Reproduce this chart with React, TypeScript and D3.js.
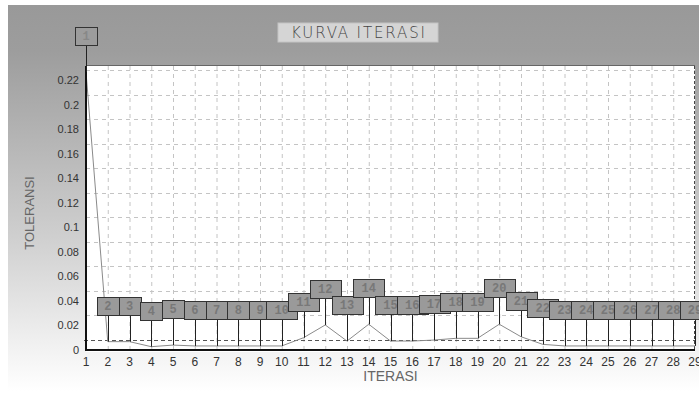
import React from 'react';
import * as d3 from 'd3';

const iterations = d3.range(1, 30);
const tolerance = [
  0.2265, 0.0068, 0.0068, 0.0027, 0.004, 0.0033, 0.0033, 0.0033, 0.0033, 0.0033,
  0.010, 0.0204, 0.0073, 0.021, 0.0073, 0.0073, 0.0081, 0.0095, 0.0095, 0.021,
  0.0108, 0.0046, 0.0033, 0.0033, 0.0033, 0.0033, 0.0033, 0.0033, 0.0033,
];
const yTicks = [0, 0.02, 0.04, 0.06, 0.08, 0.1, 0.12, 0.14, 0.16, 0.18, 0.2, 0.22];
const yTickLabels = ['0', '0.02', '0.04', '0.06', '0.08', '0.1', '0.12', '0.14', '0.16', '0.18', '0.2', '0.22'];

const W = 699;
const H = 419;
const plot = { left: 86, right: 695, top: 66, bottom: 350 };

export default function App() {
  const x = d3.scaleLinear().domain([1, 29]).range([plot.left, plot.right]);
  const y = d3.scaleLinear().domain([0, 0.2314]).range([plot.bottom, plot.top]);

  const line = d3.line<number>()
    .x((_, i) => x(iterations[i]))
    .y(d => y(d));

  // grid in this chart sits ~10px above the labelled ticks
  const gridShift = -10;
  const arrow = 27;
  const boxH = 18;

  return (
    <svg width={W} height={H} style={{ position: 'absolute', left: 0, top: 0 }}
      fontFamily="'Liberation Sans', Arial, sans-serif">
      <defs>
        <linearGradient id="panel" x1="0" y1="0" x2="0" y2="1">
          <stop offset="0" stopColor="#999999" />
          <stop offset="0.12" stopColor="#9d9d9d" />
          <stop offset="0.6" stopColor="#cfcfcf" />
          <stop offset="1" stopColor="#ffffff" />
        </linearGradient>
        <clipPath id="clipPlot">
          <rect x={plot.left} y={plot.top} width={plot.right - plot.left} height={plot.bottom - plot.top + 2} />
        </clipPath>
      </defs>
      <rect width={W} height={H} fill="#ffffff" />
      <rect x={8} y={5} width={W - 8} height={386} fill="url(#panel)" />

      {/* title */}
      <rect x={278} y={23} width={160} height={19} fill="#d5d5d5" stroke="#c4c4c4" />
      <text x={358} y={38} textAnchor="middle" fontSize={15} fill="#444"
        textLength={134} lengthAdjust="spacing" fontFamily="'DejaVu Sans', sans-serif" fontWeight={200}>
        KURVA ITERASI
      </text>

      {/* plot background */}
      <rect x={plot.left} y={plot.top} width={plot.right - plot.left} height={plot.bottom - plot.top + 2} fill="#ffffff" />

      {/* grid */}
      <g stroke="#c4c4c4" strokeDasharray="4,4" strokeWidth={1}>
        {iterations.slice(1, -1).map(v => (
          <line key={'gx' + v} x1={x(v) + 0.5} x2={x(v) + 0.5} y1={plot.top} y2={plot.bottom} />
        ))}
        {yTicks.slice(1).map(v => (
          <line key={'gy' + v} x1={plot.left} x2={plot.right} y1={Math.round(y(v) + gridShift) + 0.5} y2={Math.round(y(v) + gridShift) + 0.5} />
        ))}
      </g>
      <line x1={plot.left - 2} x2={plot.right} y1={Math.round(y(0) + gridShift) + 0.5} y2={Math.round(y(0) + gridShift) + 0.5}
        stroke="#555" strokeDasharray="4,3" />

      {/* frame */}
      <line x1={plot.left} x2={plot.right} y1={plot.top - 0.5} y2={plot.top - 0.5} stroke="#666" />
      <line x1={plot.right - 0.5} x2={plot.right - 0.5} y1={plot.top} y2={plot.bottom} stroke="#444" strokeDasharray="3,2" />

      {/* series */}
      <path d={line(tolerance) || ''} fill="none" stroke="#8a8a8a" strokeWidth={1} clipPath="url(#clipPlot)" />

      {/* axes */}
      <line x1={plot.left} x2={plot.left} y1={plot.top} y2={plot.bottom + 1} stroke="#111" strokeWidth={2} />
      <line x1={plot.left - 1} x2={plot.right} y1={plot.bottom} y2={plot.bottom} stroke="#111" strokeWidth={2} />

      {yTicks.map((v, i) => (
        <text key={'yl' + v} x={79} y={y(v) + 4} textAnchor="end" fontSize={11} fill="#333">{yTickLabels[i]}</text>
      ))}
      {iterations.map(v => (
        <text key={'xl' + v} x={x(v)} y={366} textAnchor="middle" fontSize={12} fill="#333">{v}</text>
      ))}
      <text x={(plot.left + plot.right) / 2} y={381} textAnchor="middle" fontSize={14} fill="#666">ITERASI</text>
      <text transform={`translate(34,213) rotate(-90)`} textAnchor="middle" fontSize={13} fill="#666">TOLERANSI</text>

      {/* point marks */}
      {tolerance.map((v, i) => {
        const it = iterations[i];
        const cx = x(it);
        const py = y(v);
        const bottom = py - arrow;
        const w = String(it).length > 1 ? 31 : 22;
        const first = i === 0;
        return (
          <g key={'m' + it}>
            <line x1={Math.round(cx) + 0.5} x2={Math.round(cx) + 0.5} y1={bottom} y2={py} stroke="#222" />
            <rect x={Math.round(cx - w / 2) + 0.5} y={Math.round(bottom - boxH) + 0.5} width={w} height={boxH}
              fill={first ? '#9c9c9c' : '#9a9a9a'} stroke="#333" />
            <text x={cx} y={bottom - 5} textAnchor="middle" fontSize={12} fontWeight="bold"
              fontFamily="'Liberation Mono', monospace" fill={first ? '#888' : '#787878'}>{it}</text>
          </g>
        );
      })}
    </svg>
  );
}
